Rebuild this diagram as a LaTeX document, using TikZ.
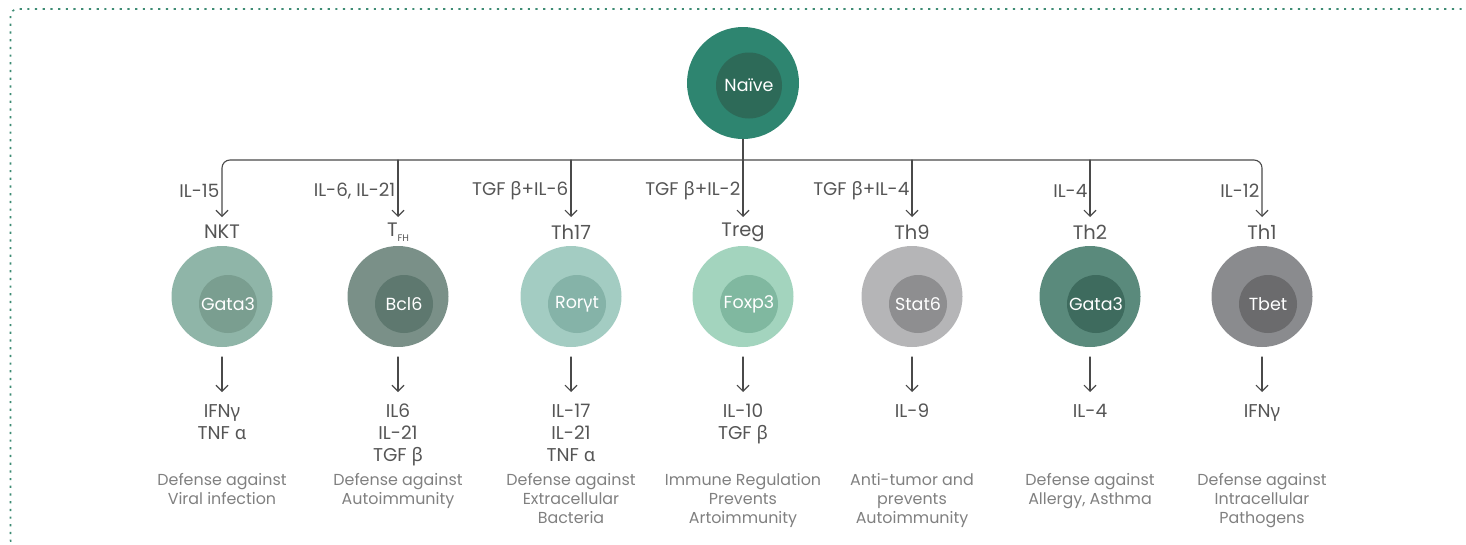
\documentclass[tikz,border=0pt]{standalone}
\usepackage{fontspec}
\setmainfont{Poppins}
\newfontfamily\gkfont{Noto Sans}
\usetikzlibrary{arrows.meta}
\definecolor{bordercol}{HTML}{3E8C74}
\definecolor{linecol}{HTML}{4A4A4A}
\definecolor{txtcol}{HTML}{555555}
\definecolor{desccol}{HTML}{808080}
\definecolor{naiveO}{HTML}{2E8570}
\definecolor{naiveI}{HTML}{2D6A58}
\definecolor{nktO}{HTML}{8FB5A8}
\definecolor{nktI}{HTML}{7A9E90}
\definecolor{tfhO}{HTML}{7A9088}
\definecolor{tfhI}{HTML}{5E786F}
\definecolor{thsO}{HTML}{A3CCC2}
\definecolor{thsI}{HTML}{85B3A8}
\definecolor{tregO}{HTML}{A3D4BE}
\definecolor{tregI}{HTML}{80B8A0}
\definecolor{thnO}{HTML}{B5B5B7}
\definecolor{thnI}{HTML}{8E8E90}
\definecolor{thtO}{HTML}{5A8A7C}
\definecolor{thtI}{HTML}{3E6B5E}
\definecolor{thoO}{HTML}{8A8B8E}
\definecolor{thoI}{HTML}{6B6B6D}
\newcommand\grA{{\gkfont α}}
\newcommand\grB{{\gkfont β}}
\newcommand\grG{{\gkfont γ}}
\tikzset{
  outercirc/.style={circle, inner sep=0pt, minimum size=101pt},
  innercirc/.style={circle, inner sep=0pt, minimum size=58pt, text=white, font=\fontsize{17.5}{20}\selectfont},
  namelbl/.style={inner sep=0pt, text=txtcol, font=\fontsize{19.5}{22}\selectfont},
  siglbl/.style={inner sep=0pt, text=txtcol, font=\fontsize{18.3}{22}\selectfont},
  cytolbl/.style={inner sep=0pt, anchor=north, align=center, text=txtcol, font=\fontsize{18.5}{22}\selectfont},
  desclbl/.style={inner sep=0pt, anchor=north, align=center, text=desccol, font=\fontsize{15.9}{18.7}\selectfont},
  conn/.style={draw=linecol, line width=1.1pt, line cap=round},
  arr/.style={conn, -{Straight Barb[length=6pt,width=12pt]}},
}
\begin{document}
\begin{tikzpicture}[x=1pt,y=-1pt]
\useasboundingbox (0,0) rectangle (1466,544);
\draw[bordercol, line width=1.6pt, dash pattern=on 2.2pt off 5.5pt, rounded corners=7pt] (10.5,9) rectangle (1469,547);
% naive cell
\node[outercirc, fill=naiveO, minimum size=112pt] (naive) at (743,83) {};
\node[innercirc, fill=naiveI, minimum size=66pt] (naiveIn) at (749,85.5) {Naïve};
\coordinate (bus) at (743,160);
\draw[conn] (naive.south) -- (bus);
\foreach \x/\nm/\sig/\oc/\ic/\tf/\cy/\ds [count=\i] in {
  222/NKT/IL-15/nktO/nktI/Gata3/{\strut IFN\grG\\TNF \grA}/{Defense against\\Viral infection},
  398/{T\raisebox{-0.45ex}{\fontsize{9.5}{10}\selectfont FH}}/{IL-6, IL-21}/tfhO/tfhI/Bcl6/{\strut IL6\\IL-21\\TGF \grB}/{Defense against\\Autoimmunity},
  571/Th17/{TGF \grB+IL-6}/thsO/thsI/{Ror\grG t}/{\strut IL-17\\IL-21\\TNF \grA}/{Defense against\\Extracellular\\Bacteria},
  743/Treg/{TGF \grB+IL-2}/tregO/tregI/Foxp3/{\strut IL-10\\TGF \grB}/{Immune Regulation\\Prevents\\Artoimmunity},
  912/Th9/{TGF \grB+IL-4}/thnO/thnI/Stat6/{\strut IL-9}/{Anti-tumor and\\prevents\\Autoimmunity},
  1090/Th2/IL-4/thtO/thtI/Gata3/{\strut IL-4}/{Defense against\\Allergy, Asthma},
  1262/Th1/IL-12/thoO/thoI/Tbet/{\strut IFN\grG}/{Defense against\\Intracellular\\Pathogens}}{
  \node[outercirc, fill=\oc] (c\i) at (\x,296.5) {};
  \node[innercirc, fill=\ic] (k\i) at (\x+6,304) {\tf};
  \node[namelbl] (n\i) at (\x,232) {\nm};
  \node[siglbl, anchor=east] (s\i) at (\x-2.5,191) {\sig};
  \coordinate (b\i) at (\x,160);
  \coordinate (t\i) at (\x,217);
  \coordinate (d\i) at (\x,357);
  \coordinate (e\i) at (\x,392);
  \node[cytolbl] (y\i) at (\x,402) {\cy};
  \node[desclbl] (g\i) at (\x,473.4) {\ds};
  \draw[arr] (d\i) -- (e\i);
}
\draw[conn, {Straight Barb[length=6pt,width=12pt]}-{Straight Barb[length=6pt,width=12pt]}, rounded corners=8pt] (t1) |- (bus) -| (t7);
\foreach \i in {2,...,6}{
  \draw[arr] (b\i) -- (t\i);
}
\end{tikzpicture}
\end{document}
